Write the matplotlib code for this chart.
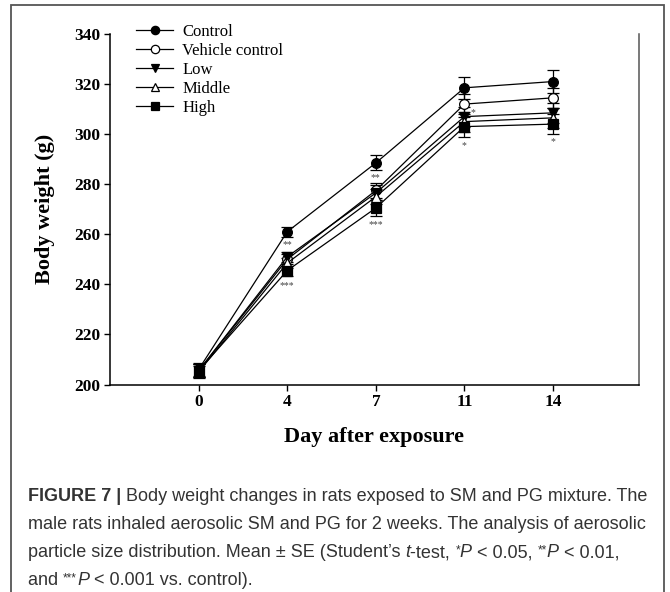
#!/usr/bin/env python3
"""Body weight changes in rats exposed to SM/PG mixture (Figure 7 recreation)."""

import matplotlib
matplotlib.use("Agg")
import matplotlib.pyplot as plt
from matplotlib.lines import Line2D
from matplotlib.patches import Rectangle

# ---- data ----
days = ["0", "4", "7", "11", "14"]
groups = ["Control", "Vehicle control", "Low", "Middle", "High"]

control = [206.0, 261.0, 288.5, 318.5, 321.0]
vehicle = [205.5, 250.0, 277.5, 312.0, 314.5]
low = [205.5, 251.0, 276.5, 307.0, 308.5]
middle = [205.0, 248.5, 275.0, 305.0, 306.5]
high = [205.5, 245.5, 270.5, 303.0, 304.0]

control_se = [2.5, 2.0, 3.0, 4.5, 4.5]
vehicle_se = [2.5, 2.0, 3.0, 4.0, 4.0]
low_se = [2.5, 2.0, 3.0, 4.0, 4.0]
middle_se = [2.5, 2.0, 3.0, 4.0, 4.0]
high_se = [2.5, 2.0, 3.0, 4.0, 4.0]

# significance marks: (day index, y value, text)
sig_day = [1, 1, 2, 2, 3, 3, 4]
sig_y = [256.0, 239.5, 282.5, 264.0, 308.5, 295.5, 297.0]
sig_text = ["**", "***", "**", "***", "*", "*", "*"]
sig_dx = [0, 0, 0, 0, 0.1, 0, 0]

yticks = [200, 220, 240, 260, 280, 300, 320, 340]

styles = [
    dict(marker="o", mfc="black"),
    dict(marker="o", mfc="white"),
    dict(marker="v", mfc="black"),
    dict(marker="^", mfc="white"),
    dict(marker="s", mfc="black"),
]

serif = "Liberation Serif"
sans = "Liberation Sans"

fig = plt.figure(figsize=(6.70, 5.92), dpi=100)
ax = fig.add_axes([0.1642, 0.3505, 0.7895, 0.5921])

x = list(range(len(days)))
series = [control, vehicle, low, middle, high]
errs = [control_se, vehicle_se, low_se, middle_se, high_se]
handles = []
for name, vals, se, st in zip(groups, series, errs, styles):
    ax.errorbar(x, vals, yerr=se, color="black", lw=0.9, elinewidth=0.9,
                capsize=4.5, capthick=0.9, marker=st["marker"], mfc=st["mfc"],
                mec="black", mew=0.9, ms=7)
    handles.append(Line2D([], [], color="black", lw=0.9, marker=st["marker"],
                          mfc=st["mfc"], mec="black", mew=0.9, ms=6, label=name))

for d, yv, t, dx in zip(sig_day, sig_y, sig_text, sig_dx):
    ax.text(d + dx, yv, t, ha="center", va="center", fontsize=7,
            color="#444444", family=serif)

ax.set_xlim(-1.0, 4.97)
ax.set_ylim(200, 340)
ax.set_xticks(x)
ax.set_xticklabels(days)
ax.set_yticks(yticks)
for lab in ax.get_xticklabels() + ax.get_yticklabels():
    lab.set_family(serif)
    lab.set_fontweight("bold")
    lab.set_fontsize(12.5)
ax.tick_params(direction="out", length=4, width=1, pad=3)
ax.spines["top"].set_visible(False)
ax.spines["right"].set_color("#555555")
for s in ["left", "bottom", "right"]:
    ax.spines[s].set_linewidth(1.1)

ax.set_xlabel("Day after exposure", family=serif, fontweight="bold",
              fontsize=16, labelpad=12)
ax.set_ylabel("Body weight (g)", family=serif, fontweight="bold",
              fontsize=16, labelpad=14)

ax.legend(handles=handles, loc="upper left", bbox_to_anchor=(0.037, 1.048),
          frameon=False, prop={"family": serif, "size": 12}, handlelength=2.2,
          handletextpad=0.55, labelspacing=0.18, borderaxespad=0)

# caption, drawn piece by piece so bold / italic / raised asterisks line up
cap_color = "#333333"
cap_size = 13
reg = dict(family=sans, fontsize=cap_size)
bold = dict(family=sans, fontsize=cap_size, fontweight="bold")
ital = dict(family=sans, fontsize=cap_size, style="italic")
sup = dict(family=sans, fontsize=8.5, rise=4)

cap_lines = [
    [("FIGURE 7 | ", bold),
     ("Body weight changes in rats exposed to SM and PG mixture. The", reg)],
    [("male rats inhaled aerosolic SM and PG for 2 weeks. The analysis of aerosolic", reg)],
    [("particle size distribution. Mean \u00b1 SE (Student\u2019s ", reg), ("t", ital),
     ("-test, ", reg), ("*", sup), ("P", ital), (" < 0.05, ", reg), ("**", sup),
     ("P", ital), (" < 0.01,", reg)],
    [("and ", reg), ("***", sup), ("P", ital), (" < 0.001 vs. control).", reg)],
]
cap_base = [501, 529, 557, 585]

renderer = fig.canvas.get_renderer()
for pieces, yb in zip(cap_lines, cap_base):
    xp = 28.0
    for txt, st in pieces:
        st = dict(st)
        rise = st.pop("rise", 0)
        t = fig.text(xp / 670, 1 - (yb - rise) / 592, txt, color=cap_color,
                     ha="left", va="baseline", **st)
        bb = t.get_window_extent(renderer=renderer)
        xp += bb.width

# outer frame
fig.patches.append(Rectangle((11 / 670, -0.05), (664 - 11) / 670, 1.05 - 5 / 592,
                             transform=fig.transFigure, fill=False,
                             edgecolor="#555555", lw=1.3))

fig.savefig("out.png", dpi=100)
